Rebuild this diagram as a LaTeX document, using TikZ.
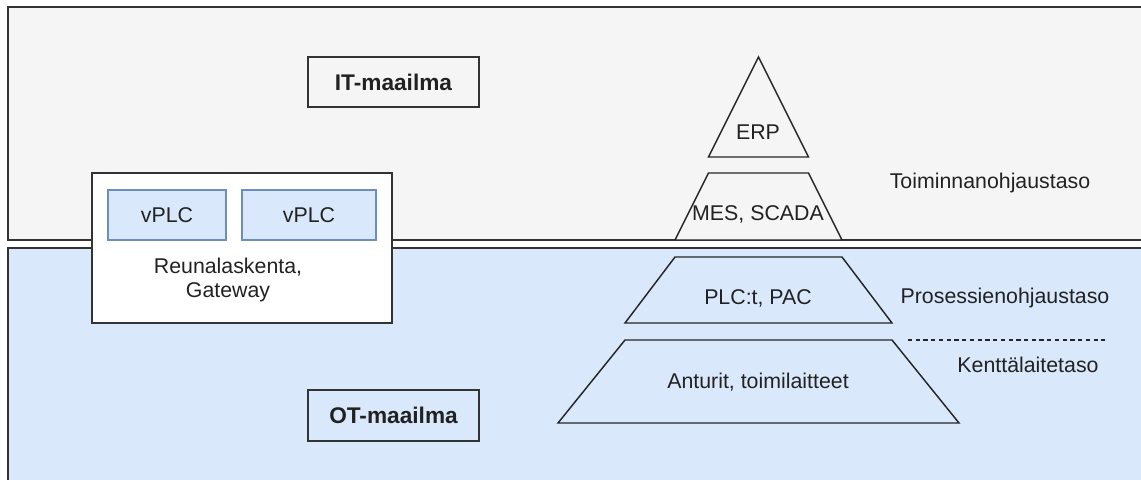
\documentclass[tikz,border=0pt]{standalone}
\usepackage{fontspec}
\setmainfont{Liberation Sans}
\usetikzlibrary{fit}
\definecolor{itbg}{HTML}{F5F5F5}
\definecolor{otbg}{HTML}{DAE8FC}
\definecolor{otline}{HTML}{6C8EBF}
\definecolor{edge}{HTML}{333333}
\definecolor{txt}{HTML}{222222}
\begin{document}
\begin{tikzpicture}[x=0.75pt,y=-0.75pt,
  zone/.style={draw=edge, line width=1.3pt, inner sep=0pt},
  plcbox/.style={draw=otline, fill=otbg, line width=1.2pt, inner sep=0pt},
  lbl/.style={font=\fontsize{16}{18}\selectfont, text=txt, inner sep=0pt},
  title/.style={font=\fontsize{17}{20}\selectfont\bfseries, text=txt, inner sep=0pt},
  layer/.style={draw=black!85, line width=1.1pt, line join=miter},
  sep/.style={draw=black!85, line width=0.9pt, dash pattern=on 3.2pt off 2.6pt}
]
\useasboundingbox (0,0) rectangle (1141,479);
\clip (0,0) rectangle (1141,479);
% zones
\node[zone, fill=itbg, fit={(8,7) (1160,240)}] (it) {};
\node[zone, fill=otbg, fit={(8,248) (1160,500)}] (ot) {};
% world labels
\node[zone, fill=itbg, fit={(308,57) (479,107)}] (itw) {};
\node[title] at (itw.center) {IT-maailma};
\node[zone, fill=otbg, fit={(308,390) (479,441)}] (otw) {};
\node[title] at (otw.center) {OT-maailma};
% edge box
\node[zone, fill=white, fit={(92,173) (392,323)}] (edgebox) {};
\node[plcbox, fit={(108,190) (226,240)}] (v1) {};
\node[lbl] at (v1.center) {vPLC};
\node[plcbox, fit={(242,190) (376,240)}] (v2) {};
\node[lbl] at (v2.center) {vPLC};
\node[lbl, align=center] (edgetxt) at (228,280) {Reunalaskenta,\\Gateway};
% pyramid
\draw[layer, fill=itbg] (758.5,57) -- (808.5,157) -- (708.5,157) -- cycle;
\node[lbl] (erp) at (758,132) {ERP};
\draw[layer, fill=itbg] (708.5,173) -- (808.5,173) -- (842,240) -- (675,240) -- cycle;
\node[lbl] (mes) at (758,214) {MES, SCADA};
\draw[layer, fill=otbg] (675,257) -- (842,257) -- (892,323) -- (625,323) -- cycle;
\node[lbl] (plc) at (758,298) {PLC:t, PAC};
\draw[layer, fill=otbg] (625,340) -- (892,340) -- (959,423) -- (558,423) -- cycle;
\node[lbl] (ant) at (758,382) {Anturit, toimilaitteet};
% level labels
\node[lbl] (toim) at (990,183) {Toiminnanohjaustaso};
\node[lbl] (pros) at (1005,298) {Prosessienohjaustaso};
\node[lbl] (kent) at (1028,365) {Kenttälaitetaso};
\coordinate (d1) at (908,340);
\coordinate (d2) at (1105,340);
\draw[sep] (d1) -- (d2);
\end{tikzpicture}
\end{document}
